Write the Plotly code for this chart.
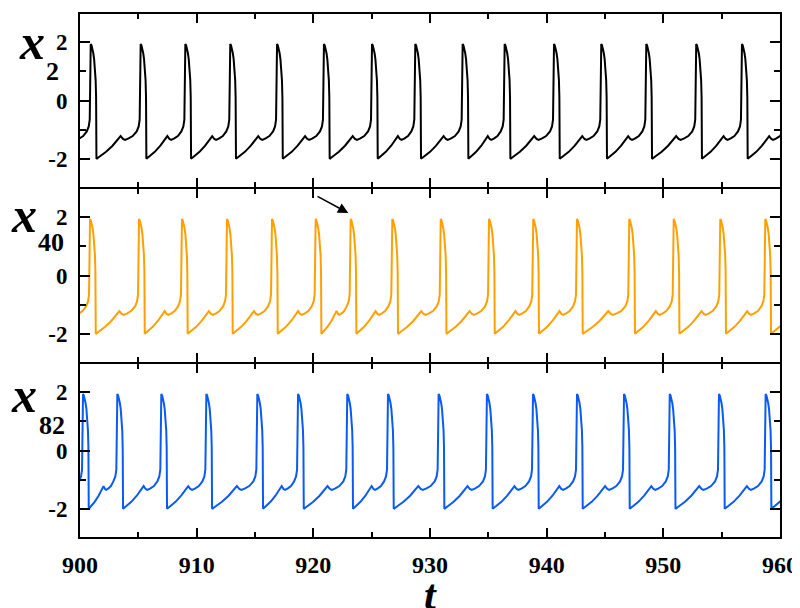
import numpy as np
import plotly.graph_objects as go
from plotly.subplots import make_subplots

# ---- data ----
t_range = [900, 960]
y_range = [-3, 3]
x_ticks = [900, 910, 920, 930, 940, 950, 960]
x_minor = [905, 915, 925, 935, 945, 955]
y_ticks = [-2, 0, 2]
y_minor = [-1, 1]

# spike peak times (first: spike just before the window, last: spike just after)
spikes_x2 = [897.0, 900.92, 905.20, 909.03, 912.88, 916.89, 920.91, 925.03, 928.74,
             932.80, 936.40, 940.63, 944.68, 948.54, 952.82, 956.74, 960.64]
spikes_x40 = [897.0, 900.86, 905.06, 908.74, 912.60, 916.46, 920.20, 923.20, 926.77,
              930.92, 935.06, 938.85, 942.60, 947.08, 950.89, 954.88, 958.74, 962.6]
spikes_x82 = [896.4, 900.26, 903.20, 906.97, 910.83, 915.20, 918.69, 922.91, 926.40,
              930.74, 934.88, 938.83, 942.60, 946.63, 950.55, 954.77, 958.77, 962.6]

# one cycle of the waveform
peak_dt = [0.0, 0.07, 0.14, 0.22, 0.29, 0.36, 0.42, 0.46, 0.49]
peak_v = [1.94, 1.88, 1.78, 1.62, 1.42, 1.15, 0.70, 0.10, -2.00]
recov_f = [0.0, 0.08, 0.24, 0.40, 0.52, 0.60, 0.66, 0.71, 0.80, 0.90, 1.0]
recov_v = [-2.0, -1.92, -1.76, -1.55, -1.37, -1.22, -1.32, -1.35, -1.30, -1.22, -1.06]
rise_dt = [-0.17, -0.086, -0.057, -0.03]
rise_v = [-0.89, -0.66, 0.15, 1.54]

colors = {"x2": "#000000", "x40": "#FFA000", "x82": "#0A5AF5"}


def build(spikes):
    ts, vs = [], []
    for tp, tn in zip(spikes[:-1], spikes[1:]):
        ts += [tp + d for d in peak_dt]
        vs += list(peak_v)
        a = tp + peak_dt[-1]
        b = tn - 0.34
        ts += [a + f * (b - a) for f in recov_f[1:]]
        vs += recov_v[1:]
        ts += [tn + d for d in rise_dt]
        vs += rise_v
    ts.append(spikes[-1])
    vs.append(peak_v[0])
    return np.array(ts), np.array(vs)


fig = make_subplots(rows=3, cols=1, shared_xaxes=True, vertical_spacing=0)

for i, (name, sp) in enumerate([("x2", spikes_x2), ("x40", spikes_x40), ("x82", spikes_x82)]):
    t, v = build(sp)
    fig.add_trace(go.Scatter(x=t, y=v, mode="lines", line=dict(color=colors[name], width=2),
                             showlegend=False, hoverinfo="skip"), row=i + 1, col=1)

xtickfont = dict(family="Liberation Serif", size=24, color="black", weight="bold")
ytickfont = dict(family="Liberation Serif", size=23, color="black", weight="bold")
for r in range(1, 4):
    fig.update_xaxes(row=r, col=1, range=t_range, showgrid=False, zeroline=False,
                     automargin=False,
                     showline=True, linecolor="black", linewidth=1, mirror="ticks",
                     ticks="inside", ticklen=10, tickwidth=1.5, tickcolor="black",
                     tickvals=x_ticks, ticktext=[str(v) for v in x_ticks],
                     showticklabels=(r == 3), tickfont=xtickfont, ticklabelstandoff=5,
                     minor=dict(tickvals=x_minor, ticks="inside", ticklen=6,
                                tickwidth=1.5, tickcolor="black"))
    fig.update_yaxes(row=r, col=1, range=y_range, showgrid=False, zeroline=False,
                     automargin=False,
                     showline=True, linecolor="black", linewidth=2, mirror="ticks",
                     ticks="inside", ticklen=10, tickwidth=1.5, tickcolor="black",
                     tickvals=y_ticks, ticktext=[str(v) for v in y_ticks],
                     tickfont=ytickfont, ticklabelstandoff=6,
                     minor=dict(tickvals=y_minor, ticks="inside", ticklen=6,
                                tickwidth=1.5, tickcolor="black"))

# outer top and bottom borders a bit heavier
fig.add_shape(type="line", xref="paper", yref="paper", x0=-0.0015, x1=1.0015, y0=1, y1=1,
              line=dict(color="black", width=2))
fig.add_shape(type="line", xref="paper", yref="paper", x0=-0.0015, x1=1.0015, y0=0, y1=0,
              line=dict(color="black", width=2))

labfont = dict(family="Liberation Serif", size=50, color="black", weight="bold", style="italic")
subfont = dict(family="Liberation Serif", size=26, color="black", weight="bold")
annots = [
    dict(text="x", x=-0.068, y=0.944, font=labfont),
    dict(text="2", x=-0.039, y=0.888, font=subfont),
    dict(text="x", x=-0.080, y=0.616, font=labfont),
    dict(text="40", x=-0.041, y=0.562, font=subfont),
    dict(text="x", x=-0.080, y=0.272, font=labfont),
    dict(text="82", x=-0.040, y=0.214, font=subfont),
]
for a in annots:
    fig.add_annotation(xref="paper", yref="paper", xanchor="center", yanchor="middle",
                       showarrow=False, **a)

fig.add_annotation(xref="paper", yref="paper", x=0.5, y=-0.06, xanchor="center", yanchor="top",
                   text="t", showarrow=False,
                   font=dict(family="Liberation Serif", size=42, color="black", weight="bold",
                             style="italic"))

# arrow in middle panel
fig.add_annotation(xref="x2", yref="y2", x=923.0, y=2.14, axref="x2", ayref="y2",
                   ax=920.23, ay=2.74, showarrow=True, arrowhead=2, arrowsize=1.3,
                   arrowwidth=1.6, arrowcolor="black", text="")

# page has an 8px body margin: figure is 792x600 so the plot box lands at 80..780 x 13..538
fig.update_layout(width=792, height=600, margin=dict(l=72, r=20, t=5, b=70),
                  paper_bgcolor="white", plot_bgcolor="white")

fig.write_html("out.html")
